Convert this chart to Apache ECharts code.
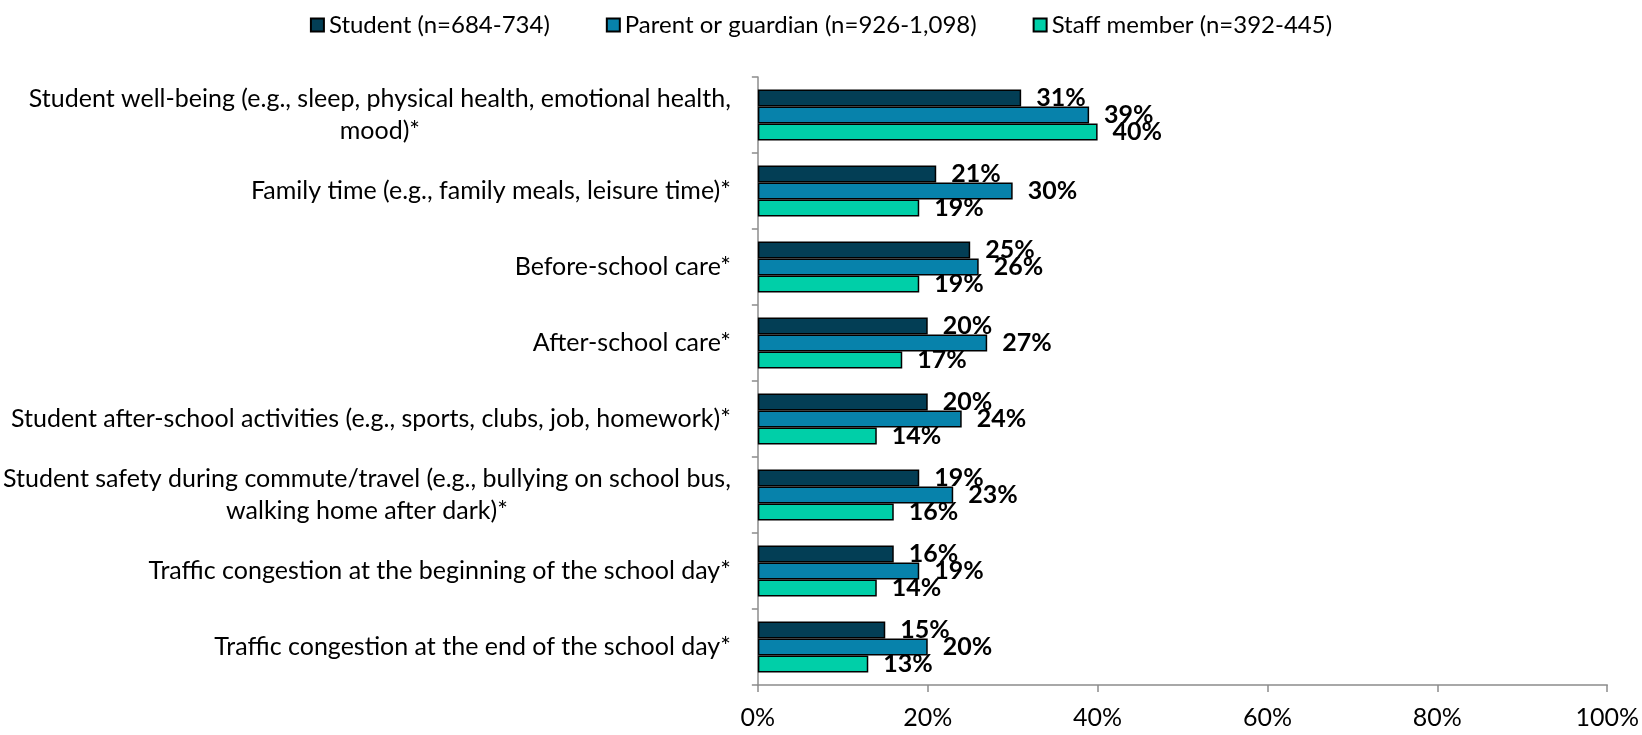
<!DOCTYPE html>
<html>
<head>
<meta charset="utf-8">
<script src="https://cdn.jsdelivr.net/npm/echarts@6/dist/echarts.min.js"></script>
<style>
  html, body { margin: 0; padding: 0; background: #ffffff; }
  #chart { width: 1642px; height: 735px; }
</style>
</head>
<body>
<div id="chart"></div>
<script>
// Survey categories, top to bottom
const categories = [
  'Student well-being (e.g., sleep, physical health, emotional health,\nmood)*',
  'Family time (e.g., family meals, leisure time)*',
  'Before-school care*',
  'After-school care*',
  'Student after-school activities (e.g., sports, clubs, job, homework)*',
  'Student safety during commute/travel (e.g., bullying on school bus,\nwalking home after dark)*',
  'Traffic congestion at the beginning of the school day*',
  'Traffic congestion at the end of the school day*'
];

// Respondent groups
const seriesNames = [
  'Student (n=684-734)',
  'Parent or guardian (n=926-1,098)',
  'Staff member (n=392-445)'
];

// Percent of respondents, per group
const studentValues = [31, 21, 25, 20, 20, 19, 16, 15];
const parentValues  = [39, 30, 26, 27, 24, 23, 19, 20];
const staffValues   = [40, 19, 19, 17, 14, 16, 14, 13];

// Value axis ticks (percent)
const xTicks = [0, 20, 40, 60, 80, 100];

const FONT = 'Lato';
const colors = ['#033E55', '#0782AB', '#00CFA8'];
const groups = [studentValues, parentValues, staffValues];

const chart = echarts.init(document.getElementById('chart'), null, { renderer: 'canvas' });

chart.setOption({
  animation: false,
  textStyle: { fontFamily: FONT },
  legend: {
    top: 8,
    left: 'center',
    itemWidth: 13,
    itemHeight: 13,
    itemGap: 56,
    icon: 'rect',
    textStyle: { fontFamily: FONT, fontSize: 24, color: '#000' },
    data: seriesNames
  },
  grid: { left: 757.5, right: 33, top: 77, bottom: 50, containLabel: false },
  xAxis: {
    type: 'value',
    min: xTicks[0],
    max: xTicks[xTicks.length - 1],
    interval: xTicks[1] - xTicks[0],
    splitLine: { show: false },
    axisLine: { show: true, lineStyle: { color: '#8c8c8c', width: 1.5 } },
    axisTick: { show: true, length: 7, lineStyle: { color: '#8c8c8c', width: 1.5 } },
    axisLabel: {
      margin: 20,
      fontFamily: FONT,
      fontSize: 25,
      color: '#000',
      formatter: v => v + '%'
    }
  },
  yAxis: {
    type: 'category',
    inverse: true,
    data: categories,
    axisLine: { show: true, lineStyle: { color: '#8c8c8c', width: 1.5 } },
    axisTick: { show: true, length: 6, lineStyle: { color: '#8c8c8c', width: 1.5 } },
    axisLabel: {
      margin: 27,
      fontFamily: FONT,
      fontSize: 25,
      color: '#000',
      lineHeight: 32,
      formatter: v => v.split('\n').map(line => '{c|' + line + '}').join('\n'),
      rich: { c: { align: 'center', fontFamily: FONT, fontSize: 25, color: '#000', lineHeight: 32 } }
    }
  },
  series: groups.map((vals, i) => ({
    name: seriesNames[i],
    type: 'bar',
    data: vals,
    barGap: '0%',
    barCategoryGap: '33%',
    itemStyle: { color: colors[i], borderColor: '#000', borderWidth: 1.5 },
    label: {
      show: true,
      position: 'right',
      distance: 15,
      fontFamily: FONT,
      fontWeight: 'bold',
      fontSize: 25,
      color: '#000',
      formatter: p => p.value + '%'
    }
  }))
});
</script>
</body>
</html>
